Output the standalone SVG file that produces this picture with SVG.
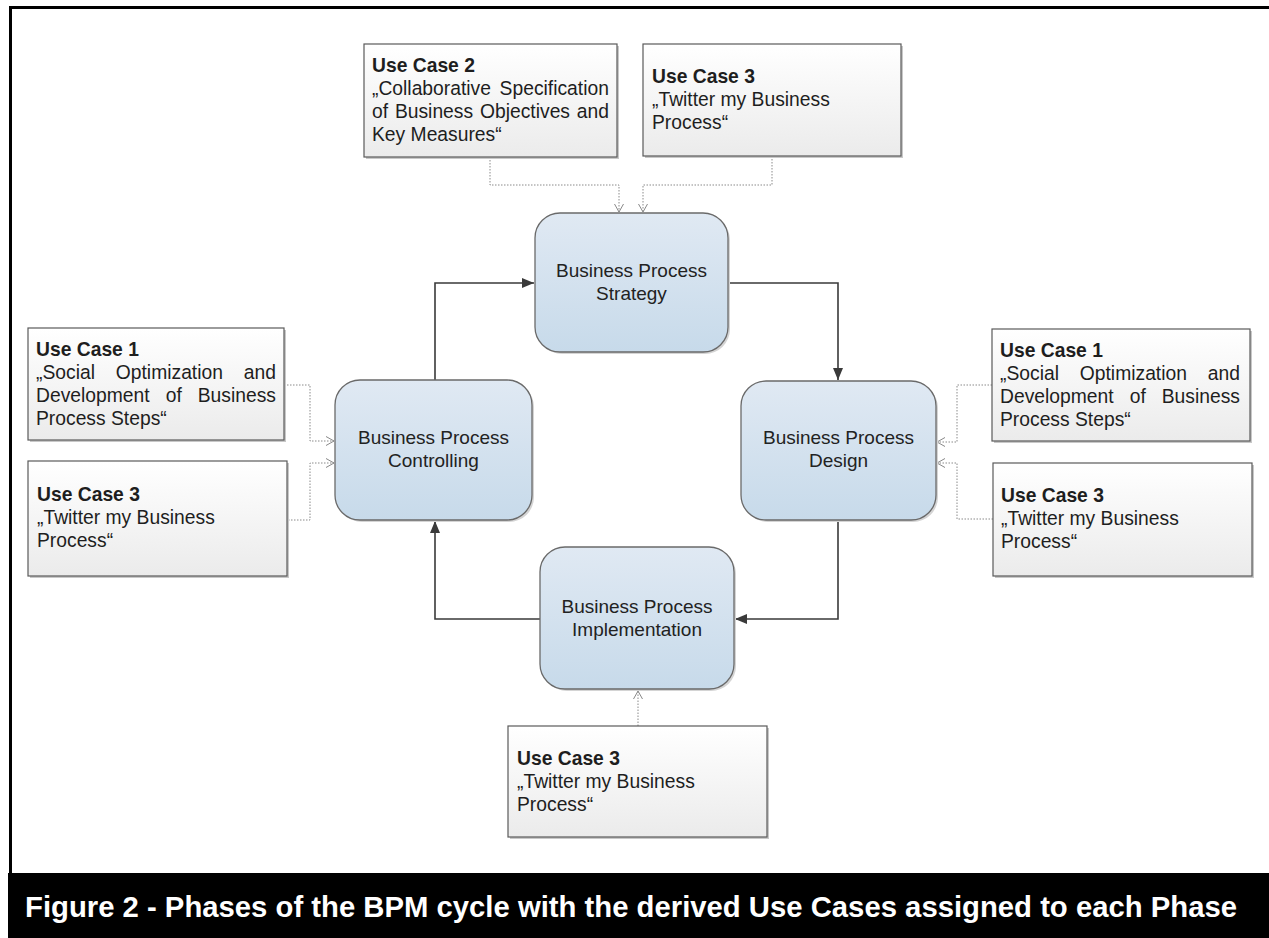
<svg xmlns="http://www.w3.org/2000/svg" width="1269" height="938" viewBox="0 0 1269 938">
<defs>
<linearGradient id="gNode" x1="0" y1="0" x2="0" y2="1">
<stop offset="0" stop-color="#e0e9f3"/>
<stop offset="1" stop-color="#c7daea"/>
</linearGradient>
<linearGradient id="gUC" x1="0" y1="0" x2="0" y2="1">
<stop offset="0" stop-color="#ffffff"/>
<stop offset="1" stop-color="#ebebeb"/>
</linearGradient>
<marker id="aSolid" viewBox="0 0 12 10" refX="12" refY="5" markerWidth="12" markerHeight="10" markerUnits="userSpaceOnUse" orient="auto">
<path d="M0,0 L12,5 L0,10 Z" fill="#3a3a3a"/>
</marker>
<marker id="aOpen" viewBox="0 0 8 10" refX="8" refY="5" markerWidth="8" markerHeight="10" markerUnits="userSpaceOnUse" orient="auto">
<path d="M0,0.5 L8,5 L0,9.5" fill="none" stroke="#888" stroke-width="1"/>
</marker>
</defs>
<style>
.uc{fill:url(#gUC);stroke:#5a5a5a;stroke-width:1.2}
.sh{fill:#c8c8c8}
.nd{fill:url(#gNode);stroke:#6a6a6a;stroke-width:1.3}
.nsh{fill:#d4d4d4}
.t{font-family:"Liberation Sans",Arial,sans-serif;font-size:19.3px;fill:#1e1e1e}
.b{font-weight:bold}
.nt{font-family:"Liberation Sans",Arial,sans-serif;font-size:19px;fill:#222;text-anchor:middle}
.solid{fill:none;stroke:#3a3a3a;stroke-width:1.6;marker-end:url(#aSolid)}
.dot{fill:none;stroke:#8a8a8a;stroke-width:1;stroke-dasharray:1.5 1.5;marker-end:url(#aOpen)}
</style>
<rect x="0" y="0" width="1269" height="938" fill="#ffffff"/>
<g id="frame">
<line x1="9" y1="7.5" x2="1269" y2="7.5" stroke="#000" stroke-width="3"/>
<line x1="10.5" y1="6" x2="10.5" y2="874" stroke="#000" stroke-width="3"/>
<rect x="8" y="873" width="1261" height="65" fill="#000"/>
<text x="25" y="917" font-family="Liberation Sans,Arial,sans-serif" font-weight="bold" font-size="29.3" fill="#fff" textLength="1212" lengthAdjust="spacingAndGlyphs">Figure 2 - Phases of the BPM cycle with the derived Use Cases assigned to each Phase</text>
</g>
<g id="connectors">
<path class="solid" d="M435,380 V283 H534"/>
<path class="solid" d="M728,283 H838 V380"/>
<path class="solid" d="M838,520 V619 H735"/>
<path class="solid" d="M540,619 H435 V521"/>
<path class="dot" d="M490,157 V185 H619 V212"/>
<path class="dot" d="M772,156 V185 H643 V212"/>
<path class="dot" d="M284,385 H310 V441 H334"/>
<path class="dot" d="M288,520 H310 V463 H334"/>
<path class="dot" d="M992,385 H957 V442 H937"/>
<path class="dot" d="M993,519 H957 V463 H937"/>
<path class="dot" d="M638,726 V691"/>
</g>
<g id="strategy">
<rect class="nsh" x="537" y="215" width="193" height="139" rx="25"/>
<rect class="nd" x="535" y="213" width="193" height="139" rx="25"/>
<text class="nt" x="631.5" y="277">Business Process</text>
<text class="nt" x="631.5" y="300">Strategy</text>
</g>
<g id="controlling">
<rect class="nsh" x="337" y="382" width="197" height="140" rx="25"/>
<rect class="nd" x="335" y="380" width="197" height="140" rx="25"/>
<text class="nt" x="433.5" y="444">Business Process</text>
<text class="nt" x="433.5" y="467">Controlling</text>
</g>
<g id="design">
<rect class="nsh" x="743" y="383" width="195" height="139" rx="25"/>
<rect class="nd" x="741" y="381" width="195" height="139" rx="25"/>
<text class="nt" x="838.5" y="444">Business Process</text>
<text class="nt" x="838.5" y="467">Design</text>
</g>
<g id="implementation">
<rect class="nsh" x="542" y="549" width="194" height="142" rx="25"/>
<rect class="nd" x="540" y="547" width="194" height="142" rx="25"/>
<text class="nt" x="637" y="613">Business Process</text>
<text class="nt" x="637" y="636">Implementation</text>
</g>
<g id="uc2-top">
<rect class="sh" x="366" y="46" width="253" height="113"/>
<rect class="uc" x="364" y="44" width="253" height="113"/>
<text class="t b" x="372" y="72">Use Case 2</text>
<text class="t" y="95"><tspan x="372">„Collaborative</tspan><tspan x="499.6">Specification</tspan></text>
<text class="t" y="118"><tspan x="372">of</tspan><tspan x="394.9">Business</tspan><tspan x="480">Objectives</tspan><tspan x="576.8">and</tspan></text>
<text class="t" x="372" y="141">Key Measures“</text>
</g>
<g id="uc3-top">
<rect class="sh" x="645" y="46" width="258" height="112"/>
<rect class="uc" x="643" y="44" width="258" height="112"/>
<text class="t b" x="652" y="83">Use Case 3</text>
<text class="t" x="652" y="106">„Twitter my Business</text>
<text class="t" x="652" y="129">Process“</text>
</g>
<g id="uc1-left">
<rect class="sh" x="30" y="330" width="256" height="112"/>
<rect class="uc" x="28" y="328" width="256" height="112"/>
<text class="t b" x="36" y="356">Use Case 1</text>
<text class="t" y="379"><tspan x="36">„Social</tspan><tspan x="115.8">Optimization</tspan><tspan x="243.8">and</tspan></text>
<text class="t" y="402"><tspan x="36">Development</tspan><tspan x="165.7">of</tspan><tspan x="197.7">Business</tspan></text>
<text class="t" x="36" y="425">Process Steps“</text>
</g>
<g id="uc3-left">
<rect class="sh" x="30" y="463" width="259" height="115"/>
<rect class="uc" x="28" y="461" width="259" height="115"/>
<text class="t b" x="37" y="501">Use Case 3</text>
<text class="t" x="37" y="524">„Twitter my Business</text>
<text class="t" x="37" y="547">Process“</text>
</g>
<g id="uc1-right">
<rect class="sh" x="994" y="331" width="258" height="112"/>
<rect class="uc" x="992" y="329" width="258" height="112"/>
<text class="t b" x="1000" y="357">Use Case 1</text>
<text class="t" y="380"><tspan x="1000">„Social</tspan><tspan x="1079.8">Optimization</tspan><tspan x="1207.8">and</tspan></text>
<text class="t" y="403"><tspan x="1000">Development</tspan><tspan x="1129.7">of</tspan><tspan x="1161.7">Business</tspan></text>
<text class="t" x="1000" y="426">Process Steps“</text>
</g>
<g id="uc3-right">
<rect class="sh" x="995" y="465" width="259" height="113"/>
<rect class="uc" x="993" y="463" width="259" height="113"/>
<text class="t b" x="1001" y="502">Use Case 3</text>
<text class="t" x="1001" y="525">„Twitter my Business</text>
<text class="t" x="1001" y="548">Process“</text>
</g>
<g id="uc3-bottom">
<rect class="sh" x="510" y="728" width="259" height="111"/>
<rect class="uc" x="508" y="726" width="259" height="111"/>
<text class="t b" x="517" y="765">Use Case 3</text>
<text class="t" x="517" y="788">„Twitter my Business</text>
<text class="t" x="517" y="811">Process“</text>
</g>
</svg>
